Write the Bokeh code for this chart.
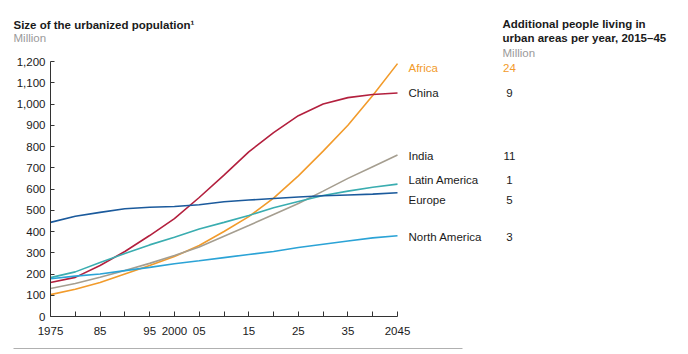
from bokeh.plotting import figure
from bokeh.models import FixedTicker, NumeralTickFormatter, Label, LinearAxis, Range1d
from bokeh.embed import file_html
from bokeh.resources import INLINE

# ---- data ----
years = [1975, 1980, 1985, 1990, 1995, 2000, 2005, 2010, 2015, 2020, 2025, 2030, 2035, 2040, 2045]
africa = [103, 128, 160, 200, 240, 282, 334, 400, 470, 557, 662, 778, 900, 1040, 1190]
china = [160, 184, 240, 306, 381, 461, 560, 665, 775, 865, 945, 1000, 1030, 1045, 1052]
india = [132, 155, 185, 216, 250, 287, 327, 378, 428, 480, 532, 590, 650, 705, 760]
latin_america = [183, 210, 254, 296, 337, 373, 412, 443, 475, 512, 541, 569, 590, 608, 623]
europe = [443, 472, 490, 507, 514, 518, 526, 540, 548, 555, 562, 568, 572, 576, 582]
north_america = [178, 190, 200, 216, 231, 248, 262, 277, 292, 306, 325, 340, 355, 370, 380]

region_names = ["Africa", "China", "India", "Latin America", "Europe", "North America"]
additional_per_year = ["24", "9", "11", "1", "5", "3"]
x_tick_labels = ["1975", "", "85", "", "95", "2000", "05", "", "15", "", "25", "", "35", "", "2045"]
y_ticks = [0, 100, 200, 300, 400, 500, 600, 700, 800, 900, 1000, 1100, 1200]

series = [africa, china, india, latin_america, europe, north_america]
colors = ["#F29B2B", "#B3203E", "#A59E90", "#3AADB0", "#1B5A9C", "#2BA3D6"]

# ---- layout (page pixels) ----
W, H = 688, 354
FL, FR, FT, FB = 50, 397, 61, 316          # where the plot area sits on the page
X0, X1, Y0, Y1 = 1975, 2045, 0, 1200
FONT = "Liberation Sans"
kx = (X1 - X0) / (FR - FL)
ky = (Y1 - Y0) / (FB - FT)


def dx(px):
    return X0 + (px - FL) * kx


def dy(py):
    return Y0 + (FB - py) * ky


p = figure(width=W, height=H,
           x_range=Range1d(dx(0), dx(W)), y_range=Range1d(dy(H), dy(0)),
           x_axis_type=None, y_axis_type=None,
           min_border=0, output_backend="svg", toolbar_location=None)
p.outline_line_color = None
p.grid.visible = False

for ys, c in zip(series, colors):
    p.line(years, ys, line_color=c, line_width=1.6)

xaxis = LinearAxis(fixed_location=Y0, bounds=(X0, X1))
xaxis.ticker = FixedTicker(ticks=years)
xaxis.major_label_overrides = {y: lab for y, lab in zip(years, x_tick_labels)}
xaxis.major_tick_in = 5
xaxis.major_tick_out = 0
xaxis.major_label_standoff = 10
yaxis = LinearAxis(fixed_location=X0, bounds=(Y0, Y1))
yaxis.ticker = FixedTicker(ticks=y_ticks)
yaxis.formatter = NumeralTickFormatter(format="0,0")
yaxis.major_tick_in = 4
yaxis.major_tick_out = 0
yaxis.major_label_standoff = 5
for ax in (xaxis, yaxis):
    ax.minor_tick_line_color = None
    ax.axis_line_color = "#333333"
    ax.major_tick_line_color = "#333333"
    ax.major_label_text_font = FONT
    ax.major_label_text_font_size = "11.5px"
    ax.major_label_text_color = "#1a1a1a"
p.add_layout(xaxis, "below")
p.add_layout(yaxis, "left")


def lab(text, px, py, color="#1a1a1a", bold=False, size="11.5px", align="left"):
    p.add_layout(Label(x=dx(px), y=dy(py), text=text, text_font=FONT,
                       text_font_size=size, text_color=color,
                       text_font_style="bold" if bold else "normal",
                       text_baseline="middle", text_align=align))


# titles
lab("Size of the urbanized population\u00b9", 13, 24, bold=True)
lab("Million", 13, 37, color="#9a9a9a")
lab("Additional people living in", 502, 23, bold=True)
lab("urban areas per year, 2015\u201345", 502, 37, bold=True)
lab("Million", 502, 52, color="#9a9a9a")

# right-hand labels
label_py = [67, 92, 155, 179, 199, 236]
for name, val, c, py in zip(region_names, additional_per_year, colors, label_py):
    tc = c if name == "Africa" else "#1a1a1a"
    lab(name, 408, py, color=tc)
    lab(val, 509, py, color=tc, align="center")

# bottom rule
p.segment(x0=[dx(13)], y0=[dy(348)], x1=[dx(462)], y1=[dy(348)],
          line_color="#b0b0b0", line_width=1)

open("out.html", "w").write(file_html(p, INLINE))
